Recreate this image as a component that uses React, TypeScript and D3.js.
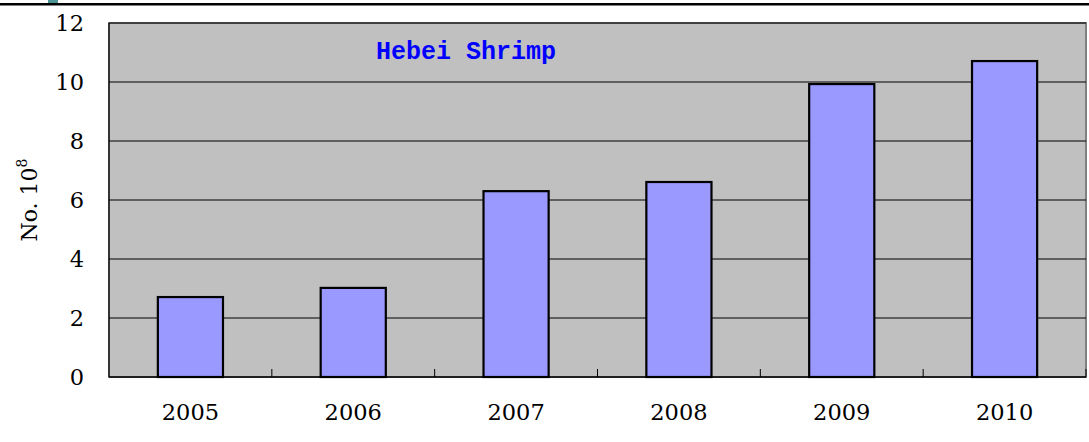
import * as d3 from 'd3';

// Hebei shrimp releases, No. 10^8
const years = ['2005', '2006', '2007', '2008', '2009', '2010'];
const counts = [2.71, 3.02, 6.3, 6.61, 9.93, 10.71];
const yTicks = [0, 2, 4, 6, 8, 10, 12];

const W = 1089;
const H = 442;
const left = 109;
const right = 1086;
const top = 23;
const bottom = 377;

export default function App() {
    const x = d3.scaleBand<string>()
        .domain(years)
        .range([left, right])
        .paddingInner(0.6)
        .paddingOuter(0.3);

    const y = d3.scaleLinear().domain([0, 12]).range([bottom, top]);

    const step = x.step();
    const serif = '"DejaVu Serif", "Liberation Serif", serif';

    return (
        <svg
            width={W}
            height={H}
            style={{ position: 'absolute', left: 0, top: 0, background: '#fff' }}
        >
            {/* header rule */}
            <rect x={0} y={3} width={W} height={2.5} fill="#000" />
            <rect x={48} y={0} width={10} height={3} fill="#4f9494" />

            {/* plot area */}
            <rect x={left} y={top} width={right - left} height={bottom - top} fill="#c0c0c0" stroke="#808080" strokeWidth={2} />

            {/* gridlines */}
            {yTicks.filter((t) => t > 0).map((t) => (
                <line key={t} x1={left} x2={right} y1={y(t)} y2={y(t)} stroke="#000" strokeWidth={1} />
            ))}

            {/* bars */}
            {years.map((yr, i) => (
                <rect
                    key={yr}
                    x={x(yr)}
                    y={y(counts[i])}
                    width={x.bandwidth()}
                    height={bottom - y(counts[i])}
                    fill="#9999ff"
                    stroke="#000"
                    strokeWidth={2.2}
                />
            ))}

            {/* axes */}
            <line x1={left} x2={left} y1={top} y2={bottom} stroke="#000" strokeWidth={1.2} />
            <line x1={left} x2={right} y1={bottom} y2={bottom} stroke="#000" strokeWidth={1.5} />
            {years.map((yr, i) => (
                <line
                    key={'t' + yr}
                    x1={left + (i + 1) * step}
                    x2={left + (i + 1) * step}
                    y1={bottom}
                    y2={bottom - 8}
                    stroke="#000"
                    strokeWidth={1}
                />
            ))}

            {/* y tick labels */}
            {yTicks.map((t) => (
                <text
                    key={'y' + t}
                    x={84}
                    y={y(t)}
                    dy="0.36em"
                    textAnchor="end"
                    fontFamily={serif}
                    fontSize={22.5}
                    fill="#000"
                >
                    {t}
                </text>
            ))}

            {/* x labels */}
            {years.map((yr) => (
                <text
                    key={'x' + yr}
                    x={(x(yr) ?? 0) + x.bandwidth() / 2}
                    y={420}
                    textAnchor="middle"
                    fontFamily={serif}
                    fontSize={22.5}
                    fill="#000"
                >
                    {yr}
                </text>
            ))}

            {/* y axis title */}
            <text
                transform="translate(37,200) rotate(-90)"
                textAnchor="middle"
                fontFamily={serif}
                fontSize={22}
                fill="#000"
            >
                No. 10
                <tspan fontSize={14} dy={-10}>8</tspan>
            </text>

            {/* chart title */}
            <text
                x={376}
                y={59}
                fontFamily='"Liberation Mono", "DejaVu Sans Mono", monospace'
                fontWeight="bold"
                fontSize={25}
                fill="#0000ff"
            >
                Hebei Shrimp
            </text>
        </svg>
    );
}
